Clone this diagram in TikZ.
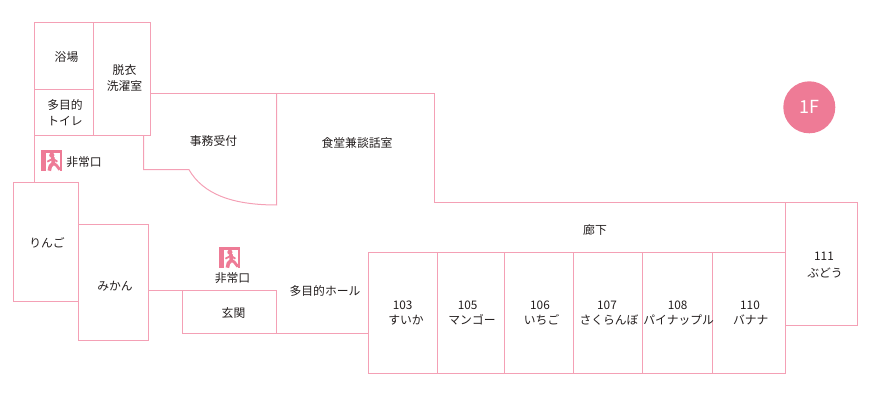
\documentclass[tikz,border=0pt]{standalone}
\usepackage{fontspec}
\setmainfont{Noto Sans CJK JP}
\usetikzlibrary{positioning,calc}
\definecolor{wall}{RGB}{244,160,181}
\definecolor{accent}{RGB}{238,123,150}
\definecolor{ink}{RGB}{35,30,30}
\tikzset{
  wallline/.style={draw=wall,line width=1pt},
  lbl/.style={text=ink,font=\fontsize{11.8}{15.5}\selectfont,align=center,inner sep=0pt},
  exitsign/.pic={
    \fill[accent] (0,0) rectangle (20.5,20.5);
    \fill[white] (5,2.5) rectangle (18.5,20.5);
    \fill[accent] (10.5,5) circle (2.6);
    \draw[accent,line width=3.6pt,line join=round]
      (11.5,7) -- (12,13) -- (9,16) -- (8,20.5);
    \draw[accent,line width=2.8pt,line join=round]
      (12,13) -- (15,15) -- (18.5,19.5);
    \draw[accent,line width=1.8pt] (11.5,8.5) -- (6,11.5) (11.5,8.5) -- (16,11.5);
  },
}
\begin{document}
\begin{tikzpicture}[x=1pt,y=-1pt]
\useasboundingbox (0,0) rectangle (875,419);
% bath block
\draw[wallline] (34,22.7) rectangle (150,135.3);
\draw[wallline] (93.5,22.7) -- (93.5,135.3);
\draw[wallline] (34,89.5) -- (93.5,89.5);
% office and dining room
\draw[wallline] (150,94) -- (434,94) -- (434,202.5) -- (857.7,202.5) -- (857.7,326) -- (785.7,326);
\draw[wallline] (143.5,135.3) -- (143.5,169.7) -- (189,169.7)
  .. controls (203,194) and (232,205) .. (276.7,205) -- (276.7,94);
% west side
\draw[wallline] (34,135.3) -- (34,182.5);
\draw[wallline] (13,182.5) rectangle (78.5,301.3);
\draw[wallline] (78.5,224.3) rectangle (148.5,340.3);
\draw[wallline] (148.5,290.3) -- (182,290.3);
\draw[wallline] (182,290.3) rectangle (276.5,333.3);
\draw[wallline] (276.5,333.3) -- (368,333.3);
% guest rooms
\draw[wallline] (785.7,202.5) -- (785.7,326);
\foreach \xa/\xb in {368/437.3,437.3/504.7,504.7/573.3,573.3/642.7,642.7/712.3,712.3/785.7} {
  \draw[wallline] (\xa,253) rectangle (\xb,373);
}
% exit signs
\pic at (41.3,150.2) {exitsign};
\pic at (219.4,247.2) {exitsign};
% labels
\node[lbl] (bath) at (66.5,57) {浴場};
\node[lbl] (laundry) at (124.5,78) {脱衣\\洗濯室};
\node[lbl] (toilet) at (65,112.5) {多目的\\トイレ};
\node[lbl] (office) at (213.5,141) {事務受付};
\node[lbl] (dining) at (357,143) {食堂兼談話室};
\node[lbl] (exita) at (84,162) {非常口};
\node[lbl] (exitb) at (232.5,278) {非常口};
\node[lbl] (corridor) at (595,229.7) {廊下};
\node[lbl] (ringo) at (47,243) {りんご};
\node[lbl] (mikan) at (115,286) {みかん};
\node[lbl] (entrance) at (233.5,313) {玄関};
\node[lbl] (hall) at (325,291) {多目的ホール};
\foreach \n/\xn/\xk/\k in {103/402.7/406/すいか,105/467.7/472/マンゴー,106/540/541.6/いちご,
    107/607/609/さくらんぼ,108/677.7/678.7/パイナップル,110/750/750.7/バナナ} {
  \node[lbl] (num\n) at (\xn,305.7) {\n};
  \node[lbl] (room\n) at (\xk,320) {\k};
}
\node[lbl] (num111) at (824,256) {111};
\node[lbl] (room111) at (825,273) {ぶどう};
% floor badge
\node[circle,fill=accent,text=white,minimum size=52pt,inner sep=0pt,font=\fontsize{18}{18}\selectfont] (floor) at (809.3,107.3) {1F};
\end{tikzpicture}
\end{document}
